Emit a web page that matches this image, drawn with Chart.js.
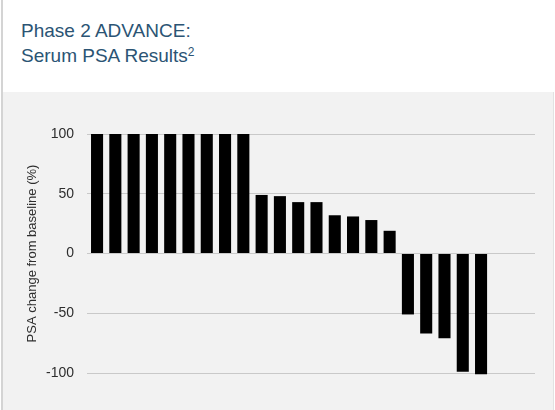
<!DOCTYPE html>
<html>
<head>
<meta charset="utf-8">
<script src="https://cdn.jsdelivr.net/npm/chart.js@4.4.1/dist/chart.umd.min.js"></script>
<style>
  html, body { margin: 0; padding: 0; background: #fff; }
  #page { position: relative; width: 555px; height: 410px; overflow: hidden; background: #fff; font-family: "Liberation Sans", Arial, sans-serif; }
  #leftline { position: absolute; left: 1px; top: 0; width: 2px; height: 410px; background: #d4d4d4; }
  #panel { position: absolute; left: 3px; top: 92px; width: 550px; height: 318px; background: #f2f2f2; border-right: 1px solid #e2e2e2; }
  .t { position: absolute; left: 21px; color: #2b5474; font-size: 19px; white-space: nowrap; line-height: 1; }
  #t1 { top: 21px; }
  #t2 { top: 46px; }
  sup { font-size: 12px; vertical-align: 0; position: relative; top: -6px; }
  #wrap { position: absolute; left: 0; top: 92px; width: 555px; height: 318px; }
</style>
</head>
<body>
<div id="page">
  <div id="leftline"></div>
  <div id="panel"></div>
  <div class="t" id="t1">Phase 2 ADVANCE:</div>
  <div class="t" id="t2">Serum PSA Results<sup>2</sup></div>
  <div id="wrap"><canvas id="c" width="555" height="318"></canvas></div>
</div>
<script>
const patients = ["1","2","3","4","5","6","7","8","9","10","11","12","13","14","15","16","17","18","19","20","21","22"];
const psaChange = [100,100,100,100,100,100,100,100,100,49,48,43,43,32,31,28,19,-51,-67,-71,-99,-101];
const yTicks = [-100,-50,0,50,100];
const yTitle = "PSA change from baseline (%)";

const points = patients.map((p, i) => ({ x: i, y: psaChange[i] }));

new Chart(document.getElementById('c'), {
  type: 'bar',
  data: {
    datasets: [{
      data: points,
      backgroundColor: '#000000',
      borderWidth: 0,
      barPercentage: 0.66,
      categoryPercentage: 1.0,
      clip: false
    }]
  },
  options: {
    responsive: false,
    animation: false,
    events: [],
    layout: { padding: { left: 0, right: 20, top: 42, bottom: 37 } },
    plugins: { legend: { display: false }, tooltip: { enabled: false } },
    scales: {
      x: {
        type: 'linear',
        display: false,
        min: -0.55,
        max: 23.95,
        offset: false
      },
      y: {
        min: -100,
        max: 100,
        afterBuildTicks: (s) => { s.ticks = yTicks.map(v => ({ value: v })); },
        afterFit: (s) => { s.width = 87; },
        border: { display: false },
        grid: { color: '#c9c9c9', lineWidth: 1, drawTicks: false },
        ticks: {
          padding: 13,
          color: '#2e2e2e',
          font: { family: '"Liberation Sans", Arial, sans-serif', size: 14 }
        },
        title: {
          display: true,
          text: yTitle,
          color: '#2e2e2e',
          padding: { top: 25, bottom: 0 },
          font: { family: '"Liberation Sans", Arial, sans-serif', size: 13 }
        }
      }
    }
  }
});
</script>
</body>
</html>
